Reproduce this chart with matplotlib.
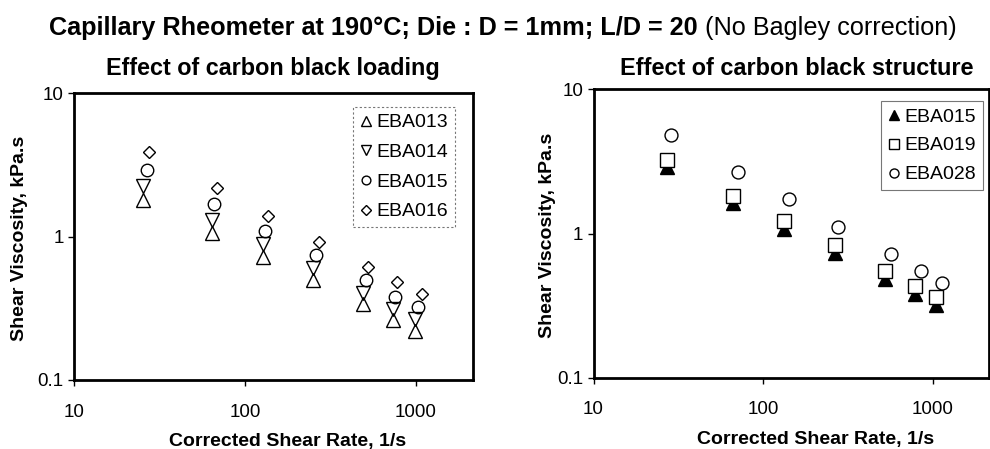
import matplotlib
matplotlib.use("Agg")
import matplotlib.pyplot as plt

plt.rcParams['font.family'] = ['Liberation Sans', 'DejaVu Sans']

# ---- data ----
main_title_bold = "Capillary Rheometer at 190°C; Die : D = 1mm; L/D = 20"
main_title_normal = " (No Bagley correction)"
left_title = "Effect of carbon black loading"
right_title = "Effect of carbon black structure"
x_label = "Corrected Shear Rate, 1/s"
y_label = "Shear Viscosity, kPa.s"

x_ticks = [10, 100, 1000]
x_tick_labels = ["10", "100", "1000"]
y_ticks = [0.1, 1, 10]
y_tick_labels = ["0.1", "1", "10"]

# Left panel: effect of carbon black loading
eba013_x = [25.4, 63.8, 126.9, 250.8, 492, 731, 987]
eba013_y = [1.79, 1.06, 0.72, 0.497, 0.338, 0.26, 0.221]
eba014_x = [25.4, 63.8, 126.9, 250.8, 492, 731, 987]
eba014_y = [2.24, 1.30, 0.88, 0.605, 0.405, 0.313, 0.267]
eba015_x = [26.6, 66.1, 130.9, 260, 510, 754, 1033]
eba015_y = [2.91, 1.68, 1.10, 0.743, 0.497, 0.380, 0.325]
eba016_x = [27.6, 68.9, 136.9, 272, 526, 778, 1080]
eba016_y = [3.90, 2.17, 1.39, 0.92, 0.616, 0.484, 0.397]

# Right panel: effect of carbon black structure
r_eba015_x = [27.0, 66.8, 133, 266, 525, 789, 1049]
r_eba015_y = [2.90, 1.63, 1.08, 0.735, 0.482, 0.379, 0.318]
r_eba019_x = [27.0, 66.8, 133, 266, 525, 789, 1049]
r_eba019_y = [3.21, 1.81, 1.22, 0.832, 0.548, 0.431, 0.363]
r_eba028_x = [28.5, 71.5, 143, 278, 566, 851, 1133]
r_eba028_y = [4.82, 2.68, 1.73, 1.11, 0.721, 0.552, 0.456]

# ---- figure ----
W, H = 990, 449
fig = plt.figure(figsize=(W / 100, H / 100), dpi=100)

def px_axes(x0, y0, x1, y1):
    return fig.add_axes([x0 / W, 1 - y1 / H, (x1 - x0) / W, (y1 - y0) / H])

axL = px_axes(74, 93, 473, 380)
axR = px_axes(593.5, 89.3, 989, 377.7)

for ax in (axL, axR):
    ax.set_xscale('log')
    ax.set_yscale('log')
    ax.set_xlim(10, 2154)
    ax.set_ylim(0.1, 10)
    ax.set_xticks(x_ticks)
    ax.set_xticklabels(x_tick_labels)
    ax.set_yticks(y_ticks)
    ax.set_yticklabels(y_tick_labels)
    ax.minorticks_off()
    ax.tick_params(axis='both', direction='out', length=4, width=1, labelsize=13.5)
    ax.tick_params(axis='x', pad=13)
    ax.tick_params(axis='y', pad=3.5)
    for s in ax.spines.values():
        s.set_linewidth(2.0)
        s.set_color('black')

ms_tri = 10.5
common = dict(linestyle='none', color='black', markeredgewidth=1.0)
axL.plot(eba013_x, eba013_y, marker='^', markersize=ms_tri, markerfacecolor='none', label='EBA013', **common)
axL.plot(eba014_x, eba014_y, marker='v', markersize=ms_tri, markerfacecolor='none', label='EBA014', **common)
axL.plot(eba015_x, eba015_y, marker='o', markersize=9, markerfacecolor='none', label='EBA015', **common)
axL.plot(eba016_x, eba016_y, marker='D', markersize=6.6, markerfacecolor='none', label='EBA016', **common)

legL = axL.legend(loc='upper right', bbox_to_anchor=(0.955, 0.951), borderaxespad=0,
                  fontsize=14, frameon=True, fancybox=False, framealpha=1,
                  edgecolor='#777777', handlelength=0.6, handletextpad=0.25,
                  labelspacing=0.62, borderpad=0.35, markerscale=0.7)
legL.get_frame().set_linewidth(0.8)
legL.get_frame().set_linestyle((0, (2, 2)))

axR.plot(r_eba015_x, r_eba015_y, marker='^', markersize=9.5, markerfacecolor='black', label='EBA015', zorder=2, **common)
axR.plot(r_eba019_x, r_eba019_y, marker='s', markersize=9.4, markerfacecolor='white', label='EBA019', zorder=3, **common)
axR.plot(r_eba028_x, r_eba028_y, marker='o', markersize=9.3, markerfacecolor='white', label='EBA028', zorder=3, **common)

legR = axR.legend(loc='upper right', bbox_to_anchor=(0.985, 0.959), borderaxespad=0,
                  fontsize=14, frameon=True, fancybox=False, framealpha=1,
                  edgecolor='#777777', handlelength=0.6, handletextpad=0.25,
                  labelspacing=0.58, borderpad=0.35, markerscale=0.7)
legR.get_frame().set_linewidth(0.8)

# ---- texts ----
title_fs = 18.2
t1 = fig.text(49 / W, 1 - 35 / H, main_title_bold, fontsize=title_fs, fontweight='bold',
              ha='left', va='baseline')
fig.canvas.draw()
bb = t1.get_window_extent(renderer=fig.canvas.get_renderer())
fig.text(bb.x1 / W, 1 - 35 / H, main_title_normal, fontsize=title_fs, ha='left', va='baseline')

fig.text(273 / W, 1 - 75 / H, left_title, fontsize=16.8, fontweight='bold', ha='center', va='baseline')
fig.text(797 / W, 1 - 75 / H, right_title, fontsize=16.9, fontweight='bold', ha='center', va='baseline')

fig.text(288 / W, 1 - 446 / H, x_label, fontsize=14, fontweight='bold', ha='center', va='baseline')
fig.text(816 / W, 1 - 444 / H, x_label, fontsize=14, fontweight='bold', ha='center', va='baseline')
fig.text(20 / W, 1 - 238 / H, y_label, fontsize=14, fontweight='bold', ha='center', va='center', rotation=90)
fig.text(547 / W, 1 - 235 / H, y_label, fontsize=14, fontweight='bold', ha='center', va='center', rotation=90)

fig.savefig('out.png', dpi=100)
